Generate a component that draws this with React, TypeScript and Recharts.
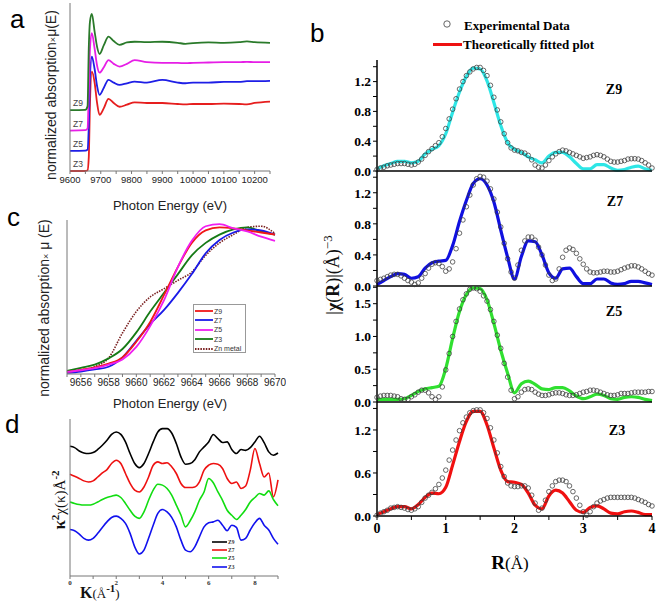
import React from "react";
import { ComposedChart, LineChart, Line, XAxis, YAxis } from "recharts";

const SANS = '"Liberation Sans", Arial, sans-serif';
const SERIF = '"Liberation Serif", "Times New Roman", serif';

// ---------- (a) normalized XANES, full energy range ----------
const energyA = [9600, 9650, 9657, 9661, 9665, 9671, 9680, 9688, 9696, 9710, 9725, 9742, 9761, 9785, 9810, 9850, 9900, 9950, 9975, 10000, 10050, 10100, 10150, 10175, 10200, 10250];
const z9A = [1.79, 1.8, 1.9, 3.6, 4.4, 4.62, 4.1, 3.65, 3.44, 3.7, 3.95, 3.82, 3.71, 3.78, 3.8, 3.79, 3.8, 3.77, 3.74, 3.76, 3.78, 3.77, 3.79, 3.81, 3.79, 3.77];
const z7A = [1.19, 1.2, 1.25, 2.3, 3.6, 4.05, 3.6, 3.1, 2.89, 3.05, 3.26, 3.15, 3.07, 3.15, 3.26, 3.2, 3.18, 3.18, 3.17, 3.18, 3.19, 3.2, 3.2, 3.21, 3.2, 3.2];
const z5A = [0.59, 0.6, 0.63, 1.3, 2.8, 3.36, 3.0, 2.5, 2.24, 2.45, 2.68, 2.6, 2.53, 2.58, 2.63, 2.6, 2.68, 2.6, 2.58, 2.6, 2.6, 2.62, 2.62, 2.64, 2.64, 2.65];
const z3A = [0, 0, 0.02, 0.4, 2.0, 2.92, 2.6, 2.0, 1.65, 1.85, 2.12, 2.0, 1.89, 1.95, 2.02, 2.0, 2.0, 1.97, 1.96, 1.97, 1.97, 1.98, 1.97, 1.96, 2.0, 2.04];
const energyTicksA = [9600, 9650, 9700, 9750, 9800, 9850, 9900, 9950, 10000, 10050, 10100, 10150, 10200, 10250];
const yTicksA = [0, 0.5, 1, 1.5, 2, 2.5, 3, 3.5, 4, 4.5];

// ---------- (c) edge region ----------
const energyC = [9655, 9656, 9657, 9658, 9659, 9660, 9661, 9662, 9663, 9664, 9665, 9666, 9667, 9668, 9669, 9670];
const z9C = [0.1, 0.2, 0.32, 0.5, 0.8, 1.55, 2.5, 3.8, 5.15, 6.3, 6.9, 7.05, 7.0, 6.9, 6.8, 6.7];
const z7C = [0.05, 0.12, 0.22, 0.35, 0.8, 1.6, 2.4, 3.08, 3.9, 4.8, 5.8, 6.44, 6.8, 6.95, 6.9, 6.7];
const z5C = [0.1, 0.18, 0.28, 0.45, 0.7, 1.3, 2.3, 3.55, 5.15, 6.4, 7.1, 7.2, 7.0, 6.85, 6.6, 6.4];
const z3C = [0.15, 0.3, 0.45, 0.75, 1.2, 2.0, 3.0, 3.9, 4.8, 5.7, 6.3, 6.7, 6.95, 7.05, 6.85, 6.7];
const znMetalC = [0.1, 0.2, 0.35, 0.77, 1.97, 3.0, 3.7, 4.1, 4.5, 4.9, 5.7, 6.3, 6.7, 7.05, 7.1, 6.75];
const yTicksC = [0, 1, 2, 3, 4, 5, 6, 7];

// ---------- (d) k-space EXAFS ----------
const kD = [0, 0.2, 0.4, 0.6, 0.8, 1, 1.2, 1.4, 1.6, 1.8, 2, 2.2, 2.4, 2.6, 2.8, 3, 3.2, 3.4, 3.6, 3.8, 4, 4.2, 4.4, 4.6, 4.8, 5, 5.2, 5.4, 5.6, 5.8, 6, 6.2, 6.4, 6.6, 6.8, 7, 7.2, 7.4, 7.6, 7.8, 8, 8.2, 8.4, 8.6, 8.8, 9];
const z9D = [6.52, 6.45, 6.27, 6.16, 6.13, 6.18, 6.35, 6.58, 6.85, 7.17, 7.3, 7.17, 6.76, 6.13, 5.59, 5.37, 5.59, 6.13, 6.76, 7.3, 7.48, 7.48, 7.24, 6.67, 5.95, 5.55, 5.59, 5.8, 6.22, 6.49, 6.76, 7.16, 6.94, 6.73, 6.76, 6.35, 6.13, 6.35, 6.3, 6.45, 6.76, 7.07, 6.72, 6.22, 6.04, 6.16];
const z7D = [5.01, 4.9, 4.78, 4.65, 4.59, 4.65, 4.86, 5.08, 5.26, 5.59, 5.77, 5.59, 5.05, 4.51, 4.15, 4.05, 4.32, 4.86, 5.5, 5.68, 5.59, 5.63, 5.41, 5.05, 4.51, 4.29, 4.29, 4.32, 4.59, 5.23, 5.5, 5.59, 5.55, 5.32, 4.78, 4.51, 4.59, 4.24, 4.37, 5.23, 6.4, 5.59, 4.86, 5.08, 3.78, 4.7];
const z5D = [3.51, 3.43, 3.37, 3.34, 3.34, 3.39, 3.51, 3.64, 3.75, 3.82, 3.88, 3.75, 3.43, 3.06, 2.74, 2.62, 2.97, 3.6, 4.15, 4.47, 4.42, 4.24, 3.88, 3.34, 2.8, 2.16, 2.49, 2.97, 3.6, 4.05, 4.78, 4.55, 4.05, 3.6, 3.06, 2.79, 2.56, 2.79, 3.1, 3.51, 3.75, 3.97, 3.88, 4.11, 3.64, 3.3];
const z3D = [2.02, 1.95, 1.77, 1.54, 1.44, 1.54, 1.81, 2.13, 2.43, 2.67, 2.74, 2.62, 2.35, 1.81, 1.08, 0.69, 0.9, 1.54, 2.25, 2.89, 3.1, 2.97, 2.67, 2.16, 1.44, 0.9, 0.81, 1.08, 1.62, 2.16, 2.38, 2.43, 2.52, 2.25, 1.95, 2.25, 2.13, 1.44, 1.54, 1.99, 2.38, 2.62, 2.25, 1.99, 1.54, 1.22];
const kTicksD = [0, 1, 2, 3, 4, 5, 6, 7, 8, 9];
const yTicksD = [0, 1, 2, 3, 4, 5, 6, 7, 8];

// ---------- (b) R-space FT magnitude ----------
// fits are read every 0.1 Å, experimental points every 0.05 Å
const rFit = [0, 0.1, 0.2, 0.3, 0.4, 0.5, 0.6, 0.7, 0.8, 0.9, 1, 1.1, 1.2, 1.3, 1.4, 1.5, 1.6, 1.7, 1.8, 1.9, 2, 2.1, 2.2, 2.3, 2.4, 2.5, 2.6, 2.7, 2.8, 2.9, 3, 3.1, 3.2, 3.3, 3.4, 3.5, 3.6, 3.7, 3.8, 3.9, 4];
const rExp = [0, 0.05, 0.1, 0.15, 0.2, 0.25, 0.3, 0.35, 0.4, 0.45, 0.5, 0.55, 0.6, 0.65, 0.7, 0.75, 0.8, 0.85, 0.9, 0.95, 1, 1.05, 1.1, 1.15, 1.2, 1.25, 1.3, 1.35, 1.4, 1.45, 1.5, 1.55, 1.6, 1.65, 1.7, 1.75, 1.8, 1.85, 1.9, 1.95, 2, 2.05, 2.1, 2.15, 2.2, 2.25, 2.3, 2.35, 2.4, 2.45, 2.5, 2.55, 2.6, 2.65, 2.7, 2.75, 2.8, 2.85, 2.9, 2.95, 3, 3.05, 3.1, 3.15, 3.2, 3.25, 3.3, 3.35, 3.4, 3.45, 3.5, 3.55, 3.6, 3.65, 3.7, 3.75, 3.8, 3.85, 3.9, 3.95, 4];
const rTicks = [0, 0.5, 1, 1.5, 2, 2.5, 3, 3.5, 4];

const z9Fit = [0.03, 0.07, 0.1, 0.13, 0.13, 0.11, 0.13, 0.23, 0.29, 0.34, 0.5, 0.79, 1.06, 1.27, 1.38, 1.37, 1.21, 0.92, 0.61, 0.38, 0.29, 0.25, 0.19, 0.15, 0.11, 0.2, 0.25, 0.25, 0.19, 0.1, 0.03, 0.03, 0.085, 0.085, 0.04, 0.01, 0.02, 0.05, 0.065, 0.03, 0.01];
const z9Exp = [
  0.02, 0.04, 0.05, 0.07, 0.08, 0.09, 0.1, 0.1, 0.1, 0.09,
  0.08, 0.09, 0.12, 0.16, 0.21, 0.26, 0.3, 0.34, 0.38, 0.46,
  0.57, 0.7, 0.83, 0.97, 1.1, 1.2, 1.28, 1.33, 1.37, 1.39,
  1.39, 1.35, 1.28, 1.15, 0.99, 0.82, 0.66, 0.5, 0.38, 0.31,
  0.28, 0.27, 0.25, 0.24, 0.21, 0.15, 0.08, 0.05, 0.04, 0.08,
  0.14, 0.19, 0.23, 0.26, 0.28, 0.27, 0.25, 0.23, 0.21, 0.19,
  0.17, 0.18, 0.19, 0.21, 0.22, 0.21, 0.19, 0.16, 0.13, 0.12,
  0.12, 0.13, 0.14, 0.16, 0.165, 0.165, 0.16, 0.14, 0.11, 0.08,
  0.04,
];

const z7Fit = [0.02, 0.07, 0.12, 0.16, 0.15, 0.1, 0.12, 0.23, 0.3, 0.32, 0.33, 0.52, 0.83, 1.1, 1.32, 1.38, 1.3, 1.08, 0.72, 0.37, 0.09, 0.38, 0.58, 0.57, 0.4, 0.17, 0.1, 0.22, 0.23, 0.12, 0.03, 0.03, 0.09, 0.09, 0.04, 0.02, 0.03, 0.06, 0.06, 0.04, 0.02];
const z7Exp = [
  0.07, 0.085, 0.1, 0.12, 0.14, 0.15, 0.15, 0.13, 0.1, 0.07,
  0.05, 0.02, 0.04, 0.1, 0.16, 0.23, 0.28, 0.3, 0.29, 0.25,
  0.19, 0.22, 0.31, 0.48, 0.68, 0.85, 1.02, 1.17, 1.3, 1.38,
  1.41, 1.4, 1.35, 1.25, 1.12, 0.95, 0.76, 0.55, 0.35, 0.18,
  0.1, 0.27, 0.46, 0.58, 0.63, 0.63, 0.59, 0.5, 0.4, 0.27,
  0.14, 0.07, 0.09, 0.22, 0.37, 0.46, 0.49, 0.47, 0.42, 0.35,
  0.28, 0.22, 0.18, 0.17, 0.17, 0.18, 0.19, 0.19, 0.18, 0.18,
  0.19, 0.21, 0.23, 0.245, 0.26, 0.26, 0.245, 0.22, 0.19, 0.16,
  0.14,
];

const z5Fit = [0.04, 0.04, 0.04, 0.04, 0.05, 0.1, 0.16, 0.2, 0.22, 0.24, 0.51, 0.97, 1.38, 1.64, 1.74, 1.73, 1.56, 1.2, 0.79, 0.44, 0.14, 0.28, 0.32, 0.27, 0.2, 0.19, 0.22, 0.22, 0.17, 0.09, 0.05, 0.08, 0.12, 0.1, 0.05, 0.04, 0.07, 0.08, 0.07, 0.04, 0.02];
const z5Exp = [
  0.07, 0.09, 0.1, 0.1, 0.1, 0.09, 0.08, 0.05, 0.04, 0.04,
  0.08, 0.11, 0.15, 0.18, 0.18, 0.14, 0.08, 0.04, 0.08, 0.23,
  0.49, 0.74, 1.0, 1.23, 1.42, 1.56, 1.65, 1.72, 1.74, 1.73,
  1.69, 1.62, 1.54, 1.41, 1.23, 1.02, 0.82, 0.59, 0.38, 0.18,
  0.05, 0.08, 0.15, 0.19, 0.2, 0.19, 0.15, 0.12, 0.1, 0.1,
  0.11, 0.13, 0.14, 0.14, 0.13, 0.11, 0.1, 0.1, 0.11, 0.13,
  0.15, 0.16, 0.18, 0.18, 0.17, 0.15, 0.13, 0.11, 0.1, 0.1,
  0.11, 0.13, 0.13, 0.13, 0.14, 0.15, 0.15, 0.15, 0.15, 0.16,
  0.16,
];

const z3Fit = [0.02, 0.06, 0.1, 0.13, 0.13, 0.1, 0.16, 0.26, 0.32, 0.31, 0.4, 0.71, 1.04, 1.32, 1.46, 1.46, 1.27, 0.95, 0.64, 0.48, 0.47, 0.44, 0.32, 0.15, 0.1, 0.28, 0.36, 0.32, 0.2, 0.08, 0.05, 0.12, 0.14, 0.1, 0.04, 0.03, 0.06, 0.07, 0.05, 0.02, 0.02];
const z3Exp = [
  0.01, 0.04, 0.06, 0.08, 0.11, 0.12, 0.13, 0.12, 0.11, 0.09,
  0.08, 0.1, 0.13, 0.19, 0.25, 0.29, 0.33, 0.38, 0.44, 0.53,
  0.64, 0.78, 0.92, 1.06, 1.19, 1.3, 1.38, 1.44, 1.47, 1.48,
  1.48, 1.44, 1.36, 1.23, 1.06, 0.88, 0.69, 0.55, 0.46, 0.42,
  0.41, 0.41, 0.42, 0.42, 0.39, 0.29, 0.18, 0.08, 0.11, 0.22,
  0.34, 0.42, 0.48, 0.5, 0.5, 0.48, 0.42, 0.34, 0.25, 0.15,
  0.06, 0.01, 0.06, 0.13, 0.18, 0.21, 0.23, 0.25, 0.26, 0.26,
  0.26, 0.26, 0.26, 0.26, 0.26, 0.25, 0.23, 0.21, 0.19, 0.16,
  0.14,
];

const rowsA = energyA.map((e, i) => ({ e, z9: z9A[i], z7: z7A[i], z5: z5A[i], z3: z3A[i] }));
const rowsC = energyC.map((e, i) => ({ e, z9: z9C[i], z7: z7C[i], z5: z5C[i], z3: z3C[i], zn: znMetalC[i] }));
const rowsD = kD.map((k, i) => ({ k, z9: z9D[i], z7: z7D[i], z5: z5D[i], z3: z3D[i] }));

// one table per R panel: every experimental point, fit value where a fit reading exists
function rRows(exp: number[], fit: number[]) {
  return rExp.map((r, i) => {
    const j = rFit.indexOf(r);
    return { r, exp: exp[i], fit: j >= 0 ? fit[j] : null };
  });
}

const legendC = [
  { name: "Z9", color: "#f01818", dash: undefined },
  { name: "Z7", color: "#1a1ae8", dash: undefined },
  { name: "Z5", color: "#f01ef0", dash: undefined },
  { name: "Z3", color: "#157a15", dash: undefined },
  { name: "Zn metal", color: "#7a2020", dash: "1.5 1.2" },
];
const legendD = [
  { name: "Z9", color: "#000000" },
  { name: "Z7", color: "#ee1111" },
  { name: "Z5", color: "#11dd11" },
  { name: "Z3", color: "#1111ee" },
];

const grayAxis = { stroke: "#777", strokeWidth: 1 };

function Abs({ left, top, children, style }: any) {
  return (
    <div style={{ position: "absolute", left, top, whiteSpace: "nowrap", lineHeight: 1, ...style }}>{children}</div>
  );
}

function VTitle({ cx, cy, children, style }: any) {
  return (
    <div
      style={{
        position: "absolute",
        left: cx,
        top: cy,
        transform: "translate(-50%, -50%) rotate(-90deg)",
        whiteSpace: "nowrap",
        lineHeight: 1,
        ...style,
      }}
    >
      {children}
    </div>
  );
}

// open circle marker for experimental points
const ring = (p: any) => (
  <circle key={p.key ?? `${p.cx}-${p.cy}`} cx={p.cx} cy={p.cy} r={2.3} fill="none" stroke="#3a3a3a" strokeWidth={0.75} />
);

function RPanel({ top, height, plotTop, xHeight, exp, fit, color, yMax, yTicks, labelStep, showX }: any) {
  const rows = rRows(exp, fit);
  const axisLine = { stroke: "#000", strokeWidth: 1.5 };
  return (
    <div style={{ position: "absolute", left: 300, top }}>
      <ComposedChart width={360} height={height} data={rows} margin={{ top: plotTop, right: 8, bottom: 0, left: 32 }}>
        <XAxis
          dataKey="r"
          type="number"
          domain={[0, 4]}
          ticks={rTicks}
          interval={0}
          height={xHeight}
          tickSize={4}
          tickMargin={3}
          axisLine={axisLine}
          tickLine={{ stroke: "#000" }}
          tick={showX ? { fontFamily: SERIF, fontWeight: "bold", fontSize: 14, fill: "#000" } : false}
          tickFormatter={(v: number) => (Number.isInteger(v) ? String(v) : "")}
        />
        <XAxis xAxisId="top" orientation="top" type="number" domain={[0, 4]} height={0} tick={false} tickLine={false} axisLine={axisLine} />
        <YAxis
          type="number"
          domain={[0, yMax]}
          ticks={yTicks}
          interval={0}
          width={45}
          tickSize={4}
          tickMargin={2}
          axisLine={axisLine}
          tickLine={{ stroke: "#000" }}
          tick={{ fontFamily: SERIF, fontWeight: "bold", fontSize: 13.5, fill: "#000" }}
          tickFormatter={(v: number) => (Math.abs(v / labelStep - Math.round(v / labelStep)) < 1e-6 ? v.toFixed(1) : "")}
        />
        <YAxis yAxisId="right" orientation="right" type="number" domain={[0, yMax]} width={0} tick={false} tickLine={false} axisLine={axisLine} />
        <Line dataKey="exp" stroke="none" dot={ring} activeDot={false} isAnimationActive={false} />
        <Line dataKey="fit" type="monotone" connectNulls stroke={color} strokeWidth={3.2} dot={false} isAnimationActive={false} />
      </ComposedChart>
    </div>
  );
}

export default function App() {
  const tickSans = { fontFamily: SANS, fontSize: 9.5, fill: "#222" };
  return (
    <div style={{ position: "absolute", left: 0, top: 0, width: 660, height: 603, background: "#fff", overflow: "hidden", fontFamily: SANS }}>
      {/* ---------- a ---------- */}
      <div style={{ position: "absolute", left: 0, top: 0 }}>
        <LineChart width={280} height={200} data={rowsA} margin={{ top: 3, right: 10, bottom: 4, left: 66 }}>
          <XAxis
            dataKey="e"
            type="number"
            domain={[9600, 10250]}
            ticks={energyTicksA}
            interval={0}
            height={25}
            tickSize={3}
            axisLine={grayAxis}
            tickLine={grayAxis}
            tick={tickSans}
            tickFormatter={(v: number) => (v % 100 === 0 && v < 10250 ? String(v) : "")}
          />
          <XAxis xAxisId="top" orientation="top" type="number" domain={[9600, 10250]} height={0} tick={false} tickLine={false} axisLine={grayAxis} />
          <YAxis type="number" domain={[0, 4.94]} ticks={yTicksA} interval={0} width={4} tickSize={3} tick={false} axisLine={grayAxis} tickLine={grayAxis} />
          <YAxis yAxisId="right" orientation="right" type="number" domain={[0, 4.94]} width={0} tick={false} tickLine={false} axisLine={grayAxis} />
          <Line dataKey="z3" type="monotone" stroke="#e61e1e" strokeWidth={1.8} dot={false} isAnimationActive={false} />
          <Line dataKey="z5" type="monotone" stroke="#1e1ee6" strokeWidth={1.8} dot={false} isAnimationActive={false} />
          <Line dataKey="z7" type="monotone" stroke="#e61ee6" strokeWidth={1.8} dot={false} isAnimationActive={false} />
          <Line dataKey="z9" type="monotone" stroke="#2a7a2a" strokeWidth={1.8} dot={false} isAnimationActive={false} />
        </LineChart>
      </div>
      {["Z9", "Z7", "Z5", "Z3"].map((n, i) => (
        <Abs key={n} left={73} top={[99, 120, 140, 160][i]} style={{ fontSize: 8.5, color: "#444" }}>
          {n}
        </Abs>
      ))}
      <Abs left={10} top={6} style={{ fontSize: 26 }}>a</Abs>
      <VTitle cx={51} cy={95} style={{ fontSize: 14, color: "#222" }}>
        normalized absorption<span style={{ fontSize: 9 }}>×</span>μ(E)
      </VTitle>
      <Abs left={170} top={205} style={{ fontSize: 13, color: "#222", transform: "translate(-50%, -50%)" }}>Photon Energy (eV)</Abs>

      {/* ---------- c ---------- */}
      <div style={{ position: "absolute", left: 0, top: 210 }}>
        <LineChart width={286} height={190} data={rowsC} margin={{ top: 10, right: 11, bottom: 6, left: 63 }}>
          <XAxis
            dataKey="e"
            type="number"
            domain={[9655, 9670]}
            ticks={energyC}
            interval={0}
            height={20}
            tickSize={3}
            axisLine={grayAxis}
            tickLine={grayAxis}
            tick={{ ...tickSans, fontSize: 10 }}
            tickFormatter={(v: number) => (v % 2 === 0 ? String(v) : "")}
          />
          <XAxis xAxisId="top" orientation="top" type="number" domain={[9655, 9670]} height={0} tick={false} tickLine={false} axisLine={grayAxis} />
          <YAxis type="number" domain={[0, 7.4]} ticks={yTicksC} interval={0} width={4} tickSize={3} tick={false} axisLine={grayAxis} tickLine={grayAxis} />
          <YAxis yAxisId="right" orientation="right" type="number" domain={[0, 7.4]} width={0} tick={false} tickLine={false} axisLine={grayAxis} />
          <Line dataKey="zn" type="monotone" stroke="#7a2020" strokeWidth={1.6} strokeDasharray="1.5 1.2" dot={false} isAnimationActive={false} />
          <Line dataKey="z3" type="monotone" stroke="#157a15" strokeWidth={1.8} dot={false} isAnimationActive={false} />
          <Line dataKey="z7" type="monotone" stroke="#1a1ae8" strokeWidth={1.8} dot={false} isAnimationActive={false} />
          <Line dataKey="z9" type="monotone" stroke="#f01818" strokeWidth={1.8} dot={false} isAnimationActive={false} />
          <Line dataKey="z5" type="monotone" stroke="#f01ef0" strokeWidth={1.8} dot={false} isAnimationActive={false} />
        </LineChart>
      </div>
      <div style={{ position: "absolute", left: 193, top: 304, width: 51, height: 47, border: "1px solid #999", background: "#fff" }}>
        {legendC.map((s, i) => (
          <div key={s.name} style={{ position: "absolute", left: 1, top: 2 + i * 9.4, height: 8, display: "flex", alignItems: "center" }}>
            <svg width={18} height={6}>
              <line x1={0} y1={3} x2={18} y2={3} stroke={s.color} strokeWidth={1.8} strokeDasharray={s.dash} />
            </svg>
            <span style={{ fontSize: 7, color: "#333", marginLeft: 1 }}>{s.name}</span>
          </div>
        ))}
      </div>
      <Abs left={7} top={204} style={{ fontSize: 26 }}>c</Abs>
      <VTitle cx={44} cy={308} style={{ fontSize: 14, color: "#222" }}>
        normalized absorption<span style={{ fontSize: 9 }}>×</span> μ (E)
      </VTitle>
      <Abs left={170} top={403} style={{ fontSize: 13, color: "#222", transform: "translate(-50%, -50%)" }}>Photon Energy (eV)</Abs>

      {/* ---------- d ---------- */}
      <div style={{ position: "absolute", left: 0, top: 410 }}>
        <LineChart width={290} height={190} data={rowsD} margin={{ top: 9, right: 12, bottom: 8, left: 66 }}>
          <XAxis
            dataKey="k"
            type="number"
            domain={[0, 9]}
            ticks={kTicksD}
            interval={0}
            height={16}
            tickSize={3}
            tickMargin={1}
            axisLine={grayAxis}
            tickLine={grayAxis}
            tick={{ fontFamily: SERIF, fontWeight: "bold", fontSize: 7, fill: "#333" }}
            tickFormatter={(v: number) => (v % 2 === 0 ? String(v) : "")}
          />
          <XAxis xAxisId="top" orientation="top" type="number" domain={[0, 9]} height={0} tick={false} tickLine={false} axisLine={grayAxis} />
          <YAxis type="number" domain={[-0.5, 8]} ticks={yTicksD} interval={0} width={4} tickSize={3} tick={false} axisLine={grayAxis} tickLine={grayAxis} />
          <YAxis yAxisId="right" orientation="right" type="number" domain={[-0.5, 8]} width={0} tick={false} tickLine={false} axisLine={grayAxis} />
          <Line dataKey="z9" type="monotone" stroke="#000000" strokeWidth={1.6} dot={false} isAnimationActive={false} />
          <Line dataKey="z7" type="monotone" stroke="#ee1111" strokeWidth={1.6} dot={false} isAnimationActive={false} />
          <Line dataKey="z5" type="monotone" stroke="#11dd11" strokeWidth={1.6} dot={false} isAnimationActive={false} />
          <Line dataKey="z3" type="monotone" stroke="#1111ee" strokeWidth={1.6} dot={false} isAnimationActive={false} />
        </LineChart>
      </div>
      {legendD.map((s, i) => (
        <div key={s.name} style={{ position: "absolute", left: 212, top: 539 + i * 8.2, height: 6, display: "flex", alignItems: "center" }}>
          <svg width={15} height={4}>
            <line x1={0} y1={2} x2={15} y2={2} stroke={s.color} strokeWidth={1.6} />
          </svg>
          <span style={{ fontSize: 5.5, fontFamily: SERIF, fontWeight: "bold", color: "#333", marginLeft: 1 }}>{s.name}</span>
        </div>
      ))}
      <Abs left={5} top={411} style={{ fontSize: 26 }}>d</Abs>
      <VTitle cx={59} cy={500} style={{ fontFamily: SERIF, fontSize: 15, color: "#111" }}>
        <b style={{ fontSize: 17 }}>κ</b>
        <sup style={{ fontWeight: "bold", fontSize: 11 }}>2</sup>χ(κ)Å<sup style={{ fontWeight: "bold", fontSize: 11 }}>-2</sup>
      </VTitle>
      <Abs left={80} top={592} style={{ fontFamily: SERIF, fontSize: 13, color: "#111", transform: "translateY(-50%)" }}>
        <b style={{ fontSize: 16 }}>K</b>(Å<sup style={{ fontWeight: "bold", fontSize: 11 }}>-1</sup>)
      </Abs>

      {/* ---------- b ---------- */}
      <RPanel top={0} height={181} plotTop={60} xHeight={10} exp={z9Exp} fit={z9Fit} color="#2ee6e6" yMax={1.49} yTicks={[0, 0.2, 0.4, 0.6, 0.8, 1.0, 1.2, 1.4]} labelStep={0.4} showX={false} />
      <RPanel top={166} height={130} plotTop={5} xHeight={10} exp={z7Exp} fit={z7Fit} color="#1010e0" yMax={1.48} yTicks={[0, 0.2, 0.4, 0.6, 0.8, 1.0, 1.2, 1.4]} labelStep={0.4} showX={false} />
      <RPanel top={281} height={131} plotTop={5} xHeight={10} exp={z5Exp} fit={z5Fit} color="#30e030" yMax={1.77} yTicks={[0, 0.25, 0.5, 0.75, 1.0, 1.25, 1.5, 1.75]} labelStep={0.5} showX={false} />
      <RPanel top={397} height={147} plotTop={5} xHeight={28} exp={z3Exp} fit={z3Fit} color="#f01010" yMax={1.59} yTicks={[0, 0.3, 0.6, 0.9, 1.2, 1.5]} labelStep={0.6} showX={true} />

      <Abs left={310} top={20} style={{ fontSize: 26 }}>b</Abs>
      <svg style={{ position: "absolute", left: 430, top: 18 }} width={34} height={32}>
        <circle cx={17} cy={6} r={3.2} fill="none" stroke="#555" strokeWidth={0.9} />
        <line x1={3} y1={26.5} x2={32} y2={26.5} stroke="#ee1111" strokeWidth={3} />
      </svg>
      <Abs left={464} top={25} style={{ fontFamily: SERIF, fontWeight: "bold", fontSize: 13, transform: "translateY(-50%)" }}>Experimental Data</Abs>
      <Abs left={463} top={44} style={{ fontFamily: SERIF, fontWeight: "bold", fontSize: 13, transform: "translateY(-50%)" }}>Theoretically fitted plot</Abs>
      {[
        ["Z9", 614, 90],
        ["Z7", 615, 202],
        ["Z5", 614, 312],
        ["Z3", 617, 431],
      ].map(([n, x, y]) => (
        <Abs key={n as string} left={x} top={y} style={{ fontFamily: SERIF, fontWeight: "bold", fontSize: 14, transform: "translate(-50%, -50%)" }}>
          {n}
        </Abs>
      ))}
      <VTitle cx={331} cy={275} style={{ fontFamily: SERIF, fontSize: 18, color: "#111" }}>
        |<b>χ</b>(<b>R</b>)|(Å)<sup style={{ fontSize: 13 }}>−3</sup>
      </VTitle>
      <Abs left={510} top={562} style={{ fontFamily: SERIF, fontSize: 17, transform: "translate(-50%, -50%)" }}>
        <b style={{ fontSize: 19 }}>R</b>(Å)
      </Abs>
    </div>
  );
}
